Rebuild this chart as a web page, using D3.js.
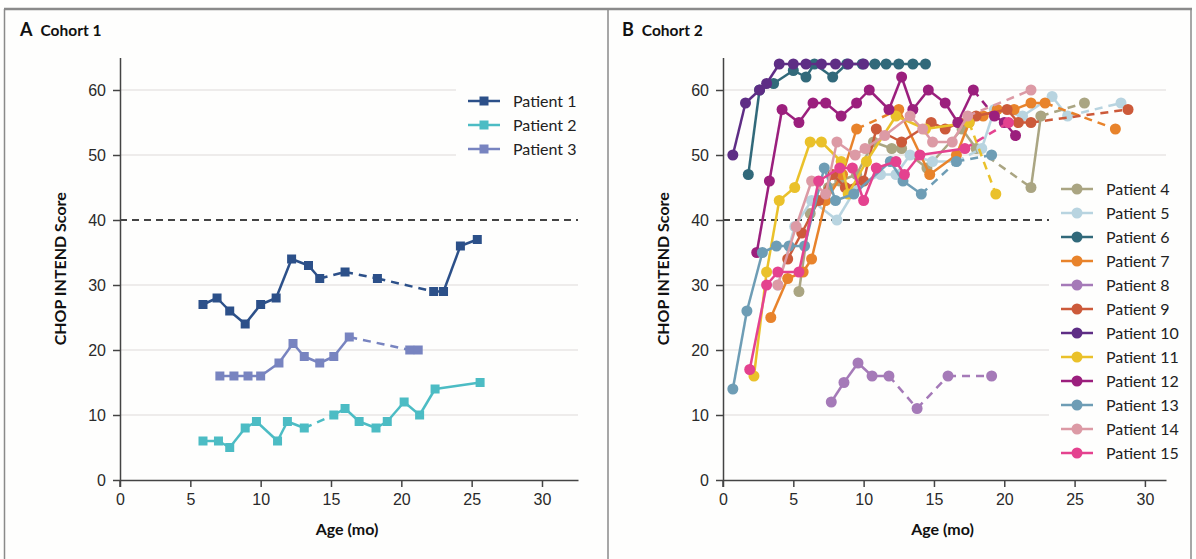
<!DOCTYPE html>
<html>
<head>
<meta charset="utf-8">
<script src="https://cdn.jsdelivr.net/npm/d3@7"></script>
<style>
  body { margin: 0; background: #fff; }
  svg { font-family: "Lato", "Open Sans", sans-serif; }
  .tick text { font-size: 16px; fill: #2a2a2a; }
  .axis path, .axis line { stroke: #444; stroke-width: 1.5; }
</style>
</head>
<body>
<div id="chart"></div>
<script>
// Values: [age (mo), CHOP INTEND score, 1 = dashed segment into this point]
const patient1 = [[5.9,27],[6.9,28],[7.8,26],[8.9,24],[10.0,27],[11.1,28],[12.2,34],[13.4,33],[14.2,31],
  [16.0,32,1],[18.3,31,1],[22.3,29,1],[23.0,29],[24.2,36],[25.4,37]];
const patient2 = [[5.9,6],[7.0,6],[7.8,5],[8.9,8],[9.7,9],[11.2,6],[11.9,9],[13.1,8],[15.2,10,1],[16.0,11],
  [17.0,9],[18.2,8],[19.0,9],[20.2,12],[21.3,10],[22.4,14],[25.6,15]];
const patient3 = [[7.1,16],[8.1,16],[9.1,16],[10.0,16],[11.3,18],[12.3,21],[13.1,19],[14.2,18],[15.2,19],
  [16.3,22],[20.6,20,1],[21.2,20]];

const patient4 = [[5.4,29],[6.2,41],[7.5,45],[8.3,46],[9.5,47],[10.7,52],[12.0,51],[12.7,51],[14.5,48],
  [17.0,54],[18.0,51],[21.9,45,1],[22.6,56],[25.7,58,1]];
const patient5 = [[3.9,30],[5.1,39],[6.3,43],[8.1,40],[9.5,45],[11.2,47],[12.3,47],[13.3,50],[14.9,49],
  [16.6,49],[18.4,51,1],[19.3,57],[21.3,56],[23.4,59],[24.5,56],[28.3,58,1]];
const patient6 = [[1.8,47],[2.6,60],[3.6,61],[5.0,63],[5.9,62],[6.5,64],[7.8,62],[8.8,64],[9.9,64],
  [10.8,64],[11.6,64],[12.5,64],[13.5,64],[14.4,64]];
const patient7 = [[3.4,25],[4.6,31],[5.7,32],[6.3,34],[7.3,43],[8.5,47],[9.5,54],[12.5,57,1],[14.7,47],
  [16.6,50],[17.5,55],[18.5,56],[19.5,57],[20.7,57],[21.9,58],[22.9,58],[27.9,54,1]];
const patient8 = [[7.7,12],[8.6,15],[9.6,18],[10.6,16],[11.8,16],[13.8,11,1],[16.0,16,1],[19.1,16,1]];
const patient9 = [[4.6,34],[5.6,38],[6.8,43],[7.8,47],[8.7,45],[10.0,46],[10.9,54],[12.7,52],[14.8,55],
  [15.8,54],[16.8,55],[18.0,56],[20.2,57],[21.0,55],[21.9,55],[28.8,57,1]];
const patient10 = [[0.7,50],[1.6,58],[2.6,60],[3.1,61],[4.0,64],[5.0,64],[5.9,64],[7.0,64],[8.0,64],
  [8.9,64],[10.0,64]];
const patient11 = [[2.2,16],[3.1,32],[4.0,43],[5.1,45],[6.2,52],[7.0,52],[8.4,49],[8.9,44],[10.2,49],
  [12.3,56],[14.4,54],[17.5,55],[19.4,44,1]];
const patient12 = [[2.4,35],[3.3,46],[4.2,57],[5.4,55],[6.4,58],[7.3,58],[8.4,56],[9.5,58],[10.4,60],
  [11.8,57],[12.7,62],[13.5,57],[14.6,60],[15.8,58],[16.7,55],[17.8,60],[19.3,56,1],[20.0,55],[20.8,53]];
const patient13 = [[0.7,14],[1.7,26],[2.8,35],[3.8,36],[4.7,36],[5.8,36],[7.2,48],[8.0,43],[9.3,44],
  [11.9,49],[12.8,46],[14.1,44],[16.6,49,1],[19.1,50,1]];
const patient14 = [[3.9,30],[5.2,39],[6.3,46],[7.3,44],[8.1,52],[9.4,50],[10.1,51],[11.5,53],[13.3,56],
  [14.2,54],[14.9,52],[16.3,52],[17.4,56],[21.9,60,1]];
const patient15 = [[1.9,17],[3.1,30],[3.9,32],[5.4,32],[6.8,46],[8.3,48],[9.2,48],[10.0,43],[10.9,48],
  [12.3,49],[12.9,47],[14.0,50],[17.2,51],[20.3,55,1]];

const cohort1Names = ["Patient 1", "Patient 2", "Patient 3"];
const cohort1Series = [patient1, patient2, patient3];
const cohort1Colors = ["#2c5089", "#4cbcc4", "#7884c0"];

const cohort2Names = ["Patient 4", "Patient 5", "Patient 6", "Patient 7", "Patient 8", "Patient 9",
  "Patient 10", "Patient 11", "Patient 12", "Patient 13", "Patient 14", "Patient 15"];
const cohort2Series = [patient4, patient5, patient6, patient7, patient8, patient9,
  patient10, patient11, patient12, patient13, patient14, patient15];
const cohort2Colors = ["#aaa582", "#b8d4e0", "#31697a", "#e8832b", "#a57ab8", "#cc5a3a",
  "#5e2d85", "#eac12a", "#9b1f7d", "#6e9db5", "#dc9aa5", "#e4428f"];

const xTicks = [0, 5, 10, 15, 20, 25, 30];
const yTicks = [0, 10, 20, 30, 40, 50, 60];
const threshold = 40;

const svg = d3.select("#chart").append("svg")
  .attr("width", 1196)
  .attr("height", 559);

svg.append("rect").attr("width", 1196).attr("height", 559).attr("fill", "#fefefd");

// panel frames
svg.append("line").attr("x1", 4).attr("x2", 1192).attr("y1", 9).attr("y2", 9)
  .attr("stroke", "#8a8a8a").attr("stroke-width", 2.5);
[4.5, 608, 1191].forEach(xv => {
  svg.append("line").attr("x1", xv).attr("x2", xv).attr("y1", 9).attr("y2", 559)
    .attr("stroke", "#8a8a8a").attr("stroke-width", 1.5);
});

const y = d3.scaleLinear().domain([0, 65]).range([480, 57.5]);

function drawPanel(opt) {
  const g = svg.append("g");
  const x = d3.scaleLinear().domain([0, opt.xMax]).range([opt.x0, opt.x1]);

  // panel title
  const t = g.append("text").attr("x", opt.titleX).attr("y", 36)
    .style("font-size", "18px").style("font-weight", "bold").attr("fill", "#111");
  t.append("tspan").text(opt.letter);
  t.append("tspan").attr("dx", 8).style("font-size", "15.5px").text(opt.title);

  // grid
  g.selectAll(".grid").data(yTicks.filter(v => v > 0 && v !== threshold)).enter().append("line")
    .attr("x1", opt.x0).attr("x2", opt.gridEnd)
    .attr("y1", d => y(d)).attr("y2", d => y(d))
    .attr("stroke", "#e8e6e4").attr("stroke-width", 1.5);

  g.append("line")
    .attr("x1", opt.x0).attr("x2", opt.gridEnd)
    .attr("y1", y(threshold)).attr("y2", y(threshold))
    .attr("stroke", "#444").attr("stroke-width", 2)
    .attr("stroke-dasharray", "7,5");

  // axes
  g.append("g").attr("class", "axis")
    .attr("transform", `translate(0,${y(0)})`)
    .call(d3.axisBottom(x).tickValues(xTicks).tickSize(7).tickSizeOuter(0).tickPadding(4))
    .call(a => a.selectAll(".tick text").attr("dy", "0.9em"));
  g.append("g").attr("class", "axis")
    .attr("transform", `translate(${opt.x0},0)`)
    .call(d3.axisLeft(y).tickValues(yTicks).tickSize(7).tickSizeOuter(0).tickPadding(7));
  g.append("line").attr("x1", opt.x0).attr("x2", opt.x0).attr("y1", y(0)).attr("y2", y(0) + 7)
    .attr("stroke", "#444").attr("stroke-width", 1.5);

  g.append("text")
    .attr("transform", `translate(${opt.x0 - 54},${y(32.5)})rotate(-90)`)
    .attr("text-anchor", "middle")
    .style("font-size", "16px").style("font-weight", "bold").attr("fill", "#111")
    .text("CHOP INTEND Score");
  g.append("text")
    .attr("x", (opt.x0 + opt.x1) / 2 - 2).attr("y", 535)
    .attr("text-anchor", "middle")
    .style("font-size", "16px").style("font-weight", "bold").attr("fill", "#111")
    .text("Age (mo)");

  // legend background
  g.append("rect").attr("x", opt.legX - 12).attr("y", opt.legY - 14)
    .attr("width", opt.x1 - opt.legX + 14).attr("height", opt.names.length * 24 + 4)
    .attr("fill", "#fefefd");

  // series
  opt.series.forEach((s, i) => {
    const sg = g.append("g");
    const segs = d3.pairs(s);
    sg.selectAll("line").data(segs).enter().append("line")
      .attr("x1", d => x(d[0][0])).attr("y1", d => y(d[0][1]))
      .attr("x2", d => x(d[1][0])).attr("y2", d => y(d[1][1]))
      .attr("stroke", opt.colors[i]).attr("stroke-width", 2.5)
      .attr("stroke-dasharray", d => d[1][2] ? "8,6" : null);
    drawMarkers(sg, s, opt.colors[i], opt.marker, x);
  });

  // legend
  const leg = g.selectAll(".leg").data(opt.names).enter().append("g")
    .attr("transform", (d, i) => `translate(${opt.legX},${opt.legY + i * 24})`);
  leg.append("line").attr("x1", 0).attr("x2", 32).attr("y1", 0).attr("y2", 0)
    .attr("stroke", (d, i) => opt.colors[i]).attr("stroke-width", 2.5);
  leg.each(function (d, i) {
    drawMarkers(d3.select(this), [[0, 0]], opt.colors[i], opt.marker, () => 16, () => 0);
  });
  leg.append("text").attr("x", 45).attr("y", 5.5)
    .style("font-size", "16px").attr("fill", "#222")
    .text(d => d);
}

function drawMarkers(sel, pts, color, type, xs, ys) {
  const yy = ys || y;
  if (type === "square") {
    sel.selectAll(".m").data(pts).enter().append("rect").attr("class", "m")
      .attr("x", d => xs(d[0]) - 4.5).attr("y", d => yy(d[1]) - 4.5)
      .attr("width", 9).attr("height", 9).attr("fill", color);
  } else {
    sel.selectAll(".m").data(pts).enter().append("circle").attr("class", "m")
      .attr("cx", d => xs(d[0])).attr("cy", d => yy(d[1]))
      .attr("r", 5.5).attr("fill", color);
  }
}

drawPanel({
  letter: "A", title: "Cohort 1", titleX: 20,
  x0: 120, x1: 578, xMax: 32.56, gridEnd: 578,
  series: cohort1Series, colors: cohort1Colors, names: cohort1Names,
  marker: "square", legX: 468, legY: 101
});

drawPanel({
  letter: "B", title: "Cohort 2", titleX: 622,
  x0: 723, x1: 1166, xMax: 31.5, gridEnd: 1166,
  series: cohort2Series, colors: cohort2Colors, names: cohort2Names,
  marker: "circle", legX: 1061, legY: 189
});
</script>
</body>
</html>
